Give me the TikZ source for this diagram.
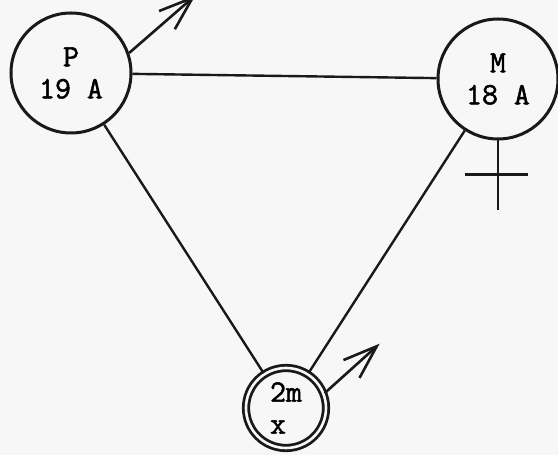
\documentclass[tikz,border=0pt]{standalone}
\usepackage{fontspec}
\setmonofont[FakeBold=1.6]{Latin Modern Mono}
\usetikzlibrary{arrows.meta,positioning,calc}

\begin{document}
\begin{tikzpicture}[
  x=1pt, y=1pt,
  font=\ttfamily\fontsize{31}{32}\selectfont,
  parent/.style={circle, draw=black!90, line width=3pt, minimum size=120pt, inner sep=0pt, align=center},
  offspring/.style={parent, double=black!3, double distance=2.6pt, line width=2.8pt, minimum size=80pt, align=left},
  link/.style={draw=black!90, line width=2.4pt},
  arr/.style={link, line width=2.6pt, -{Straight Barb[length=34pt, width=24pt]}}
]
\fill[black!3] (0,0) rectangle (558,455);
\useasboundingbox (0,0) rectangle (558,455);

% Persons
\node[parent] (father) at (71,382) {P\\19 A};
\node[parent] (mother) at (498,376) {M\\18 A};
\node[offspring] (child) at (286,47) {2m\\x};

% Relations
\draw[link] (father) -- (mother);
\draw[link] (father) -- (child);
\draw[link] (mother) -- (child);

% Sex marks
\draw[arr] (father.19) -- ++(41:88);
\draw[arr] (child.21) -- ++(42:74);
\coordinate (venusEnd) at ($(mother.south)+(0,-70)$);
\coordinate (crossL) at ($(mother.south)+(-33,-34)$);
\coordinate (crossR) at ($(mother.south)+(30,-34)$);
\draw[link] (mother.south) -- (venusEnd);
\draw[link] (crossL) -- (crossR);

\end{tikzpicture}
\end{document}
